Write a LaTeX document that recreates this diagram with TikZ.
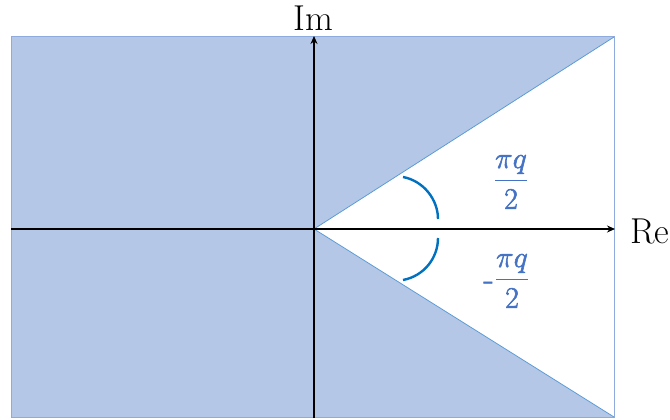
\documentclass[tikz,border=0pt]{standalone}
\usepackage{amsmath}
\usepackage{graphicx}
\usetikzlibrary{arrows.meta}
\definecolor{regfill}{HTML}{B4C7E7}
\definecolor{regedge}{HTML}{8FAADC}
\definecolor{wedgeedge}{HTML}{5B9BD5}
\definecolor{arccol}{HTML}{0070C0}
\definecolor{labcol}{HTML}{4472C4}
\newcommand{\heavytext}[1]{\special{pdf:literal direct 0.45 w 2 Tr}#1\special{pdf:literal direct 0 Tr}}
\newcommand{\anglefrac}{\heavytext{\scalebox{1.2}{$\dfrac{\pi q}{2}$}}}
\tikzset{
  axis/.style={line width=2.4pt, -{Stealth[length=8pt,width=7pt]}},
  anglearc/.style={arccol, line width=2.4pt},
  axlabel/.style={font=\fontsize{36}{42}\selectfont, inner sep=0pt},
  anglabel/.style={labcol, font=\fontsize{24.88}{30}\selectfont, inner sep=0pt}
}
\begin{document}
\begin{tikzpicture}[x=1pt,y=-1pt]
\useasboundingbox (0,0) rectangle (670,420);
% shaded region
\fill[regfill] (11,37) rectangle (614,417);
\draw[regedge, line width=1pt] (11,37) rectangle (614,417);
\coordinate (O) at (314,229);
\coordinate (TR) at (614,37);
\coordinate (BR) at (614,417);
\fill[white] (O) -- (TR) -- (BR) -- cycle;
\draw[wedgeedge, line width=0.8pt] (TR) -- (O) -- (BR);
\draw[regedge, line width=1pt] (TR) -- (BR);
% axes
\coordinate (xl) at (11,229);
\coordinate (xr) at (615,229);
\coordinate (yb) at (314,418);
\coordinate (yt) at (314,36);
\draw[axis] (xl) -- (xr);
\draw[axis] (yb) -- (yt);
\node[axlabel] (im) at (313,18) {Im};
\node[axlabel] (re) at (650,231) {Re};
% angle arcs
\draw[anglearc] (403,177) .. controls (424,181) and (438,200) .. (438,219);
\draw[anglearc] (438,238) .. controls (438,258) and (424,276) .. (403,280);
% labels
\node[anglabel] (up) at (511,182) {\anglefrac};
\node[anglabel] (dn) at (512,281) {\anglefrac};
\node[anglabel, anchor=east, font=\fontsize{34}{40}\selectfont] (minus) at (494,286) {\heavytext{-}};
\end{tikzpicture}
\end{document}
